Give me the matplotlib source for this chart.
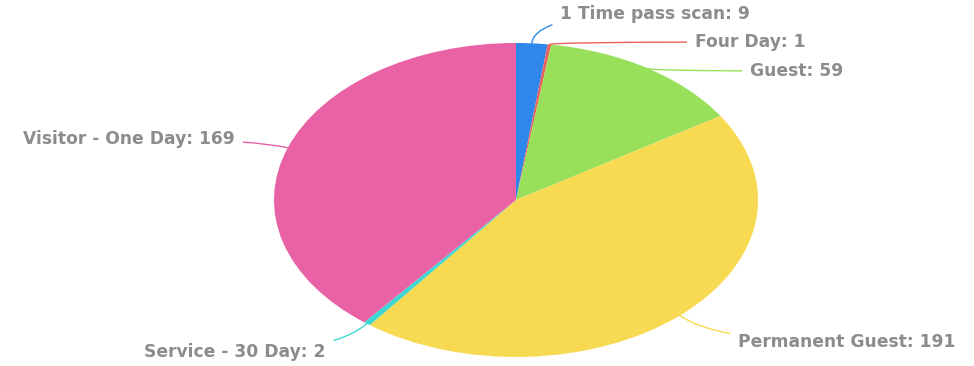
import numpy as np
import matplotlib.pyplot as plt

labels = ["1 Time pass scan", "Four Day", "Guest", "Permanent Guest", "Service - 30 Day", "Visitor - One Day"]
values = [9, 1, 59, 191, 2, 169]
colors = ["#2f86eb", "#e8615c", "#98e05a", "#f7da52", "#3dd6d0", "#e962a6"]

W, H = 974, 366
cx, cy, rx, ry = 516, 200, 242, 157

fig = plt.figure(figsize=(W / 100, H / 100), dpi=100)
ax = fig.add_axes([(cx - rx) / W, (H - cy - ry) / H, 2 * rx / W, 2 * ry / H])
wedges, _ = ax.pie(values, colors=colors, startangle=90, counterclock=False, radius=1,
                   wedgeprops=dict(linewidth=0))
ax.set_xlim(-1, 1)
ax.set_ylim(-1, 1)
ax.set_aspect("auto")
ax.axis("off")

# label anchors in pixels (left/right edge of text)
text_pos = [(560, 14, "left"), (695, 42, "left"), (750, 71, "left"),
            (738, 342, "left"), (326, 352, "right"), (235, 139, "right")]

def to_data(px, py):
    return (px - cx) / rx, (cy - py) / ry

for w, lab, v, c, (px, py, ha) in zip(wedges, labels, values, colors, text_pos):
    mid = np.deg2rad((w.theta1 + w.theta2) / 2)
    ex, ey = np.cos(mid), np.sin(mid)
    tx, ty = to_data(px, py)
    radial = np.degrees(np.arctan2(ry * ey, rx * ex))
    ax.annotate(f"{lab}: {v}", xy=(ex, ey), xytext=(tx, ty),
                ha=ha, va="center", fontsize=12.3, fontweight="bold", color="#8c8c8c",
                family="DejaVu Sans", annotation_clip=False,
                arrowprops=dict(arrowstyle="-", color=c, lw=1,
                                shrinkA=4, shrinkB=0,
                                connectionstyle=f"angle3,angleA=0,angleB={radial:.1f}"))

fig.savefig("out.png", dpi=100)
